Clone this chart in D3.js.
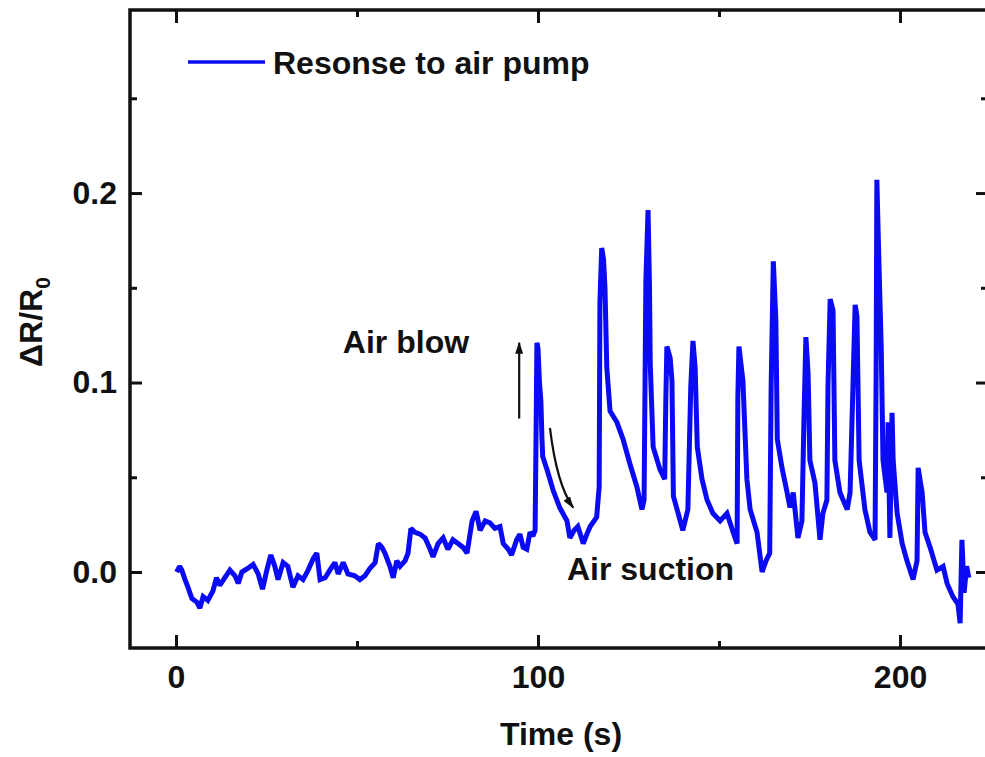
<!DOCTYPE html>
<html>
<head>
<meta charset="utf-8">
<script src="https://cdn.jsdelivr.net/npm/d3@7"></script>
<style>
  body { margin: 0; background: #fff; }
  text { font-family: "Liberation Sans", Arial, sans-serif; font-weight: bold; fill: #111; }
</style>
</head>
<body>
<div id="container"></div>
<script>
// values
let time = [0.2, 1.0, 1.6, 2.5, 3.3, 4.4, 5.8, 6.6, 7.5, 8.8, 10.2, 11.2, 12.1, 13.5, 14.9, 16.3, 17.2, 18.2, 19.9, 21.3,
  22.7, 23.9, 25.1, 26.2, 27.3, 28.2, 29.6, 30.9, 32.3, 33.7, 35.1, 36.5, 37.9, 38.9, 39.8, 41.2, 42.5, 43.9, 44.8, 46.2,
  47.5, 49.4, 50.8, 52.2, 53.6, 55.0, 55.9, 56.9, 57.7, 59.1, 60.0, 61.0, 61.9, 63.3, 64.1, 64.9, 66.0, 67.4, 68.8, 70.2,
  71.0, 72.4, 73.8, 75.1, 76.5, 77.9, 79.3, 80.4, 81.8, 82.9, 84.0, 85.4, 86.7, 88.1, 89.5, 90.4, 91.8, 92.7, 94.1, 95.0,
  95.9, 96.9, 97.8, 98.6, 99.2, 99.5, 99.7, 100.0, 100.4, 100.8, 101.1, 101.3, 102.5, 104.2, 106.0, 108.0, 108.8, 110.0, 111.0, 112.5,
  113.5, 114.4, 116.2, 116.9, 117.1, 117.6, 118.1, 118.5, 119.0, 119.9, 121.8, 123.5, 125.4, 127.3, 128.7, 129.3, 129.8, 130.4, 130.8, 131.0,
  131.8, 133.7, 135.0, 135.3, 135.6, 136.5, 137.0, 137.4, 138.7, 140.0, 141.4, 142.2, 142.8, 143.4, 144.0, 145.3, 146.7, 148.3, 150.3, 152.2,
  153.9, 155.0, 155.2, 155.5, 156.6, 157.7, 158.6, 160.5, 161.9, 163.0, 164.0, 164.4, 165.0, 165.7, 166.1, 167.4, 168.8, 169.6, 170.5, 171.8,
  172.9, 173.5, 174.0, 174.6, 175.1, 176.5, 177.9, 178.7, 179.8, 180.1, 180.7, 181.5, 182.0, 183.4, 185.4, 186.2, 186.7, 187.6, 188.1, 188.7,
  190.3, 191.7, 193.1, 193.4, 193.6, 194.2, 194.8, 195.3, 196.4, 196.7, 197.2, 197.8, 198.1, 199.2, 200.6, 201.9, 203.6, 204.7, 205.0, 206.1,
  206.9, 208.3, 210.2, 211.9, 213.0, 214.6, 216.0, 216.6, 217.1, 217.7, 218.4, 219.0];

let response = [0.000, 0.003, 0.001, -0.004, -0.008, -0.014, -0.016, -0.019, -0.013, -0.015, -0.010, -0.003, -0.007, -0.003, 0.001, -0.002, -0.006, 0.000, 0.002, 0.004,
  -0.001, -0.009, 0.001, 0.009, 0.003, -0.004, 0.005, 0.003, -0.008, -0.002, -0.004, 0.001, 0.007, 0.010, -0.004, -0.003, 0.001, 0.005, -0.001, 0.005,
  -0.001, -0.002, -0.004, -0.002, 0.002, 0.005, 0.015, 0.013, 0.010, 0.003, -0.003, 0.006, 0.003, 0.006, 0.010, 0.023, 0.021, 0.020, 0.018, 0.012,
  0.008, 0.015, 0.018, 0.012, 0.017, 0.015, 0.013, 0.010, 0.027, 0.032, 0.022, 0.027, 0.026, 0.023, 0.024, 0.015, 0.012, 0.009, 0.017, 0.020,
  0.013, 0.012, 0.021, 0.019, 0.022, 0.080, 0.121, 0.118, 0.100, 0.090, 0.070, 0.061, 0.054, 0.043, 0.034, 0.027, 0.018, 0.022, 0.024, 0.015,
  0.020, 0.024, 0.029, 0.045, 0.142, 0.171, 0.165, 0.150, 0.108, 0.085, 0.079, 0.070, 0.057, 0.045, 0.033, 0.038, 0.154, 0.191, 0.150, 0.110,
  0.066, 0.054, 0.049, 0.090, 0.119, 0.113, 0.101, 0.040, 0.031, 0.022, 0.033, 0.098, 0.122, 0.108, 0.066, 0.049, 0.038, 0.031, 0.027, 0.031,
  0.021, 0.015, 0.092, 0.119, 0.101, 0.049, 0.033, 0.021, 0.000, 0.006, 0.010, 0.098, 0.164, 0.133, 0.070, 0.055, 0.042, 0.034, 0.042, 0.018,
  0.027, 0.084, 0.124, 0.105, 0.059, 0.047, 0.017, 0.031, 0.038, 0.098, 0.144, 0.138, 0.059, 0.042, 0.033, 0.042, 0.077, 0.141, 0.135, 0.059,
  0.033, 0.021, 0.017, 0.105, 0.207, 0.161, 0.119, 0.059, 0.042, 0.079, 0.018, 0.084, 0.059, 0.031, 0.015, 0.006, -0.004, 0.006, 0.055, 0.042,
  0.021, 0.013, 0.001, 0.003, -0.006, -0.013, -0.017, -0.027, 0.017, -0.011, 0.003, -0.003];

let xMajor = [0, 100, 200];
let xMinor = [50, 150];
let yMajor = [0.0, 0.1, 0.2];
let yMinor = [0.05, 0.15, 0.25];

let blue = "#0a0af5";
let ink = "#111";

let W = 985, H = 757;
let mLeft = 130, mRight = 988, mTop = 10, mBottom = 648;

let viz = d3.select("#container")
  .append("svg")
    .attr("width", W)
    .attr("height", H)
    .style("background-color", "white");

let x = d3.scaleLinear().domain([-12.7, 224.3]).range([mLeft, mRight]);
let y = d3.scaleLinear().domain([-0.0401, 0.2966]).range([mBottom, mTop]);

let data = time.map((t, i) => ({t: t, v: response[i]}));

// trace
viz.append("path")
  .datum(data)
  .attr("d", d3.line().x(d => x(d.t)).y(d => y(d.v)))
  .attr("fill", "none")
  .attr("stroke", blue)
  .attr("stroke-width", 5)
  .attr("stroke-linejoin", "miter")
  .attr("stroke-miterlimit", 2);

// axes: major ticks inward, minor ticks inward and shorter
function styleAxis(g) {
  g.select(".domain").remove();
  g.selectAll(".tick line").attr("stroke", ink).attr("stroke-width", 3);
  g.selectAll(".tick text").attr("font-size", 32).attr("fill", ink)
    .attr("font-family", "'Liberation Sans', Arial, sans-serif").attr("font-weight", "bold");
}

viz.append("g").attr("transform", `translate(0,${mBottom})`)
  .call(d3.axisBottom(x).tickValues(xMajor).tickFormat(d3.format("d")).tickSizeInner(-13).tickSizeOuter(0).tickPadding(17))
  .call(styleAxis);
viz.append("g").attr("transform", `translate(0,${mBottom})`)
  .call(d3.axisBottom(x).tickValues(xMinor).tickFormat("").tickSizeInner(-7).tickSizeOuter(0))
  .call(styleAxis);
viz.append("g").attr("transform", `translate(0,${mTop})`)
  .call(d3.axisTop(x).tickValues(xMajor).tickFormat("").tickSizeInner(-13).tickSizeOuter(0))
  .call(styleAxis);
viz.append("g").attr("transform", `translate(0,${mTop})`)
  .call(d3.axisTop(x).tickValues(xMinor).tickFormat("").tickSizeInner(-7).tickSizeOuter(0))
  .call(styleAxis);

viz.append("g").attr("transform", `translate(${mLeft},0)`)
  .call(d3.axisLeft(y).tickValues(yMajor).tickFormat(d3.format(".1f")).tickSizeInner(-12).tickSizeOuter(0).tickPadding(13))
  .call(styleAxis);
viz.append("g").attr("transform", `translate(${mLeft},0)`)
  .call(d3.axisLeft(y).tickValues(yMinor).tickFormat("").tickSizeInner(-7).tickSizeOuter(0))
  .call(styleAxis);
viz.append("g").attr("transform", `translate(${mRight},0)`)
  .call(d3.axisRight(y).tickValues(yMajor).tickFormat("").tickSizeInner(-12).tickSizeOuter(0))
  .call(styleAxis);
viz.append("g").attr("transform", `translate(${mRight},0)`)
  .call(d3.axisRight(y).tickValues(yMinor).tickFormat("").tickSizeInner(-7).tickSizeOuter(0))
  .call(styleAxis);

// frame
viz.append("rect")
  .attr("x", mLeft)
  .attr("y", mTop)
  .attr("width", mRight - mLeft)
  .attr("height", mBottom - mTop)
  .attr("fill", "none")
  .attr("stroke", ink)
  .attr("stroke-width", 3.5);

// axis titles
viz.append("text")
  .text("Time (s)")
  .attr("x", 561)
  .attr("y", 745)
  .attr("text-anchor", "middle")
  .attr("font-size", 32);

let ylab = viz.append("text")
  .attr("transform", `translate(42,${322}) rotate(-90)`)
  .attr("text-anchor", "middle")
  .attr("font-size", 32);
ylab.append("tspan").text("\u0394R/R");
ylab.append("tspan").text("0").attr("font-size", 21).attr("dy", 8);

// legend
viz.append("line")
  .attr("x1", 188).attr("x2", 265)
  .attr("y1", 62).attr("y2", 62)
  .attr("stroke", blue)
  .attr("stroke-width", 3.5);
viz.append("text")
  .text("Resonse to air pump")
  .attr("x", 273)
  .attr("y", 74)
  .attr("font-size", 32);

// annotations
viz.append("defs").append("marker")
  .attr("id", "head")
  .attr("markerUnits", "userSpaceOnUse")
  .attr("viewBox", "0 0 12 8")
  .attr("refX", 11).attr("refY", 4)
  .attr("markerWidth", 12).attr("markerHeight", 8)
  .attr("orient", "auto")
  .append("path")
    .attr("d", "M0,0 L12,4 L0,8 Z")
    .attr("fill", ink);

viz.append("line")
  .attr("x1", x(94.8)).attr("y1", y(0.081))
  .attr("x2", x(94.8)).attr("y2", y(0.121))
  .attr("stroke", ink)
  .attr("stroke-width", 2.2)
  .attr("marker-end", "url(#head)");

viz.append("path")
  .attr("d", `M${x(103.3)},${y(0.076)} Q${x(105.2)},${y(0.046)} ${x(109.7)},${y(0.034)}`)
  .attr("fill", "none")
  .attr("stroke", ink)
  .attr("stroke-width", 2.2)
  .attr("marker-end", "url(#head)");

viz.append("text")
  .text("Air blow")
  .attr("x", x(46.1))
  .attr("y", y(0.1156))
  .attr("font-size", 32);

viz.append("text")
  .text("Air suction")
  .attr("x", x(108))
  .attr("y", y(-0.004))
  .attr("font-size", 32);
</script>
</body>
</html>
